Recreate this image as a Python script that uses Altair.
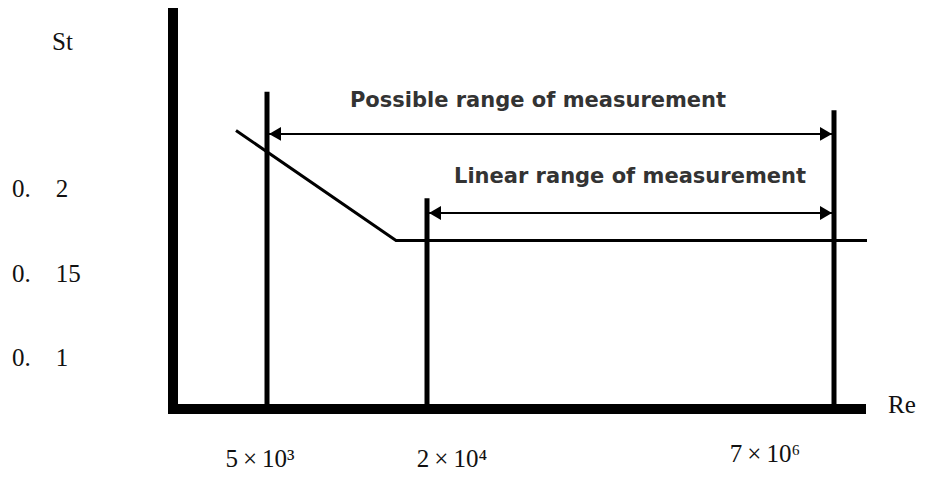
import altair as alt
import pandas as pd

# ---------------- data (schematic St–Re diagram) ----------------
# Re markers along the (schematic, non-scaled) Re axis
re_labels = ["5\u2009×\u200910³", "2\u2009×\u200910⁴", "7\u2009×\u200910⁶"]
re_pos = [267, 427, 834]                 # schematic position on Re axis
marker_top_st = [0.257, 0.194, 0.246]    # top of each marker line (St units)

# St axis ticks
st_ticks = [0.2, 0.15, 0.1]
st_tick_labels = ["0.\u20032", "0.\u200315", "0.\u20031"]

# St–Re characteristic curve
curve_pos = [236, 396, 867]
curve_st = [0.234, 0.169, 0.169]

# measurement ranges (arrows)
range_names = ["Possible range of measurement", "Linear range of measurement"]
range_start = [267, 427]
range_end = [834, 834]
range_st = [0.232, 0.1852]

# ---------------- layout helpers ----------------
W, H = 909, 463
X0 = 8
PX_PER_ST = 84.5 / 0.05
ST_REF_Y, ST_REF = 188, 0.2


def st_at(ypx):
    return ST_REF - (ypx - ST_REF_Y) / PX_PER_ST


ST_TOP = st_at(8)
ST_BOTTOM = st_at(8 + H)
BASE_ST = st_at(409)

xs = alt.Scale(domain=[X0, X0 + W], nice=False, zero=False)
ys = alt.Scale(domain=[ST_BOTTOM, ST_TOP], nice=False, zero=False)


def X(field="x", **kw):
    return alt.X(f"{field}:Q", scale=xs, axis=None, **kw)


def Y(field="y", **kw):
    return alt.Y(f"{field}:Q", scale=ys, axis=None, **kw)


# thick axes
axes_df = pd.DataFrame({
    "x": [173, 168], "x2": [173, 866],
    "y": [st_at(8), BASE_ST], "y2": [st_at(414), BASE_ST],
})
axes = alt.Chart(axes_df).mark_rule(color="black", strokeWidth=10, strokeCap="butt").encode(
    x=X(), x2="x2:Q", y=Y(), y2="y2:Q"
)

# marker verticals
markers_df = pd.DataFrame({"x": re_pos, "y": [BASE_ST] * 3, "y2": marker_top_st})
markers = alt.Chart(markers_df).mark_rule(color="black", strokeWidth=5, strokeCap="butt").encode(
    x=X(), y=Y(), y2="y2:Q"
)

# curve
curve_df = pd.DataFrame({"x": curve_pos, "y": curve_st, "o": [0, 1, 2]})
curve = alt.Chart(curve_df).mark_line(color="black", strokeWidth=3).encode(
    x=X(), y=Y(), order="o:Q"
)

# arrows
arrow_df = pd.DataFrame({"x": range_start, "x2": range_end, "y": range_st})
arrow_lines = alt.Chart(arrow_df).mark_rule(color="black", strokeWidth=2).encode(
    x=X(), x2="x2:Q", y=Y()
)
heads_df = pd.DataFrame({
    "x": [s + 8 for s in range_start] + [e - 8 for e in range_end],
    "y": range_st + range_st,
    "shape": ["triangle-left"] * 2 + ["triangle-right"] * 2,
})
heads = alt.Chart(heads_df).mark_point(filled=True, color="black", opacity=1, size=190).encode(
    x=X(), y=Y(), shape=alt.Shape("shape:N", scale=None, legend=None)
)

# range labels
range_lbl_df = pd.DataFrame({"x": [538, 630], "y": [st_at(107), st_at(183)], "t": range_names})
range_lbl = alt.Chart(range_lbl_df).mark_text(
    font="DejaVu Sans", fontSize=21, fontWeight="bold", color="#333333",
    align="center", baseline="alphabetic"
).encode(x=X(), y=Y(), text="t:N")

# serif labels: St ticks + axis titles
left_df = pd.DataFrame({
    "x": [12, 12, 12, 52, 888],
    "y": [st_at(197), st_at(282), st_at(366), st_at(50), st_at(413)],
    "t": st_tick_labels + ["St", "Re"],
})
serif_left = alt.Chart(left_df).mark_text(
    font="Liberation Serif", fontSize=25, color="#111111", align="left", baseline="alphabetic"
).encode(x=X(), y=Y(), text="t:N")

# Re tick labels
re_lbl_df = pd.DataFrame({
    "x": [260, 452, 765],
    "y": [st_at(467), st_at(467), st_at(462)],
    "t": re_labels,
})
serif_center = alt.Chart(re_lbl_df).mark_text(
    font="Liberation Serif", fontSize=25, color="#111111", align="center", baseline="alphabetic"
).encode(x=X(), y=Y(), text="t:N")

chart = alt.layer(
    curve, arrow_lines, heads, markers, axes, range_lbl, serif_left, serif_center
).properties(
    width=W, height=H, padding=0, autosize=alt.AutoSizeParams(type="none"),
    background="white"
).configure_view(stroke=None)

chart.save("out.html", embed_options={"renderer": "svg", "actions": False})
